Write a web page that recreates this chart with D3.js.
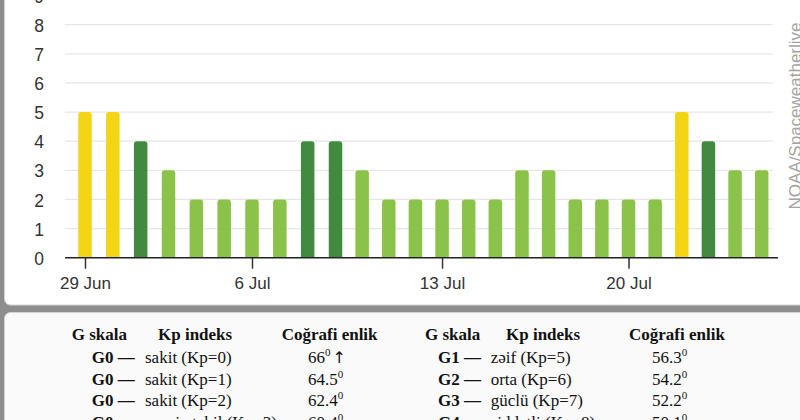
<!DOCTYPE html>
<html>
<head>
<meta charset="utf-8">
<script src="https://cdn.jsdelivr.net/npm/d3@7"></script>
<style>
  html, body { margin: 0; padding: 0; background: #8e8e8e; }
  svg { display: block; }
</style>
</head>
<body>
<div id="chart"></div>
<script>
// daily max Kp, 29 Jun onwards
const kpValues = [5, 5, 4, 3, 2, 2, 2, 2, 4, 4, 3, 2, 2, 2, 2, 2, 3, 3, 2, 2, 2, 2, 5, 4, 3, 3];
const yTicks = [0, 1, 2, 3, 4, 5, 6, 7, 8, 9];
const xTickIdx = [0, 6, 13, 20];
const xTickLabels = ['29 Jun', '6 Jul', '13 Jul', '20 Jul'];

const headers = ['G skala', 'Kp indeks', 'Coğrafi enlik'];
const leftLevels = ['G0 —', 'G0 —', 'G0 —', 'G0 —'];
const leftDescs = ['sakit (Kp=0)', 'sakit (Kp=1)', 'sakit (Kp=2)', 'qeyri-stabil (Kp=3)'];
const leftLats = ['66', '64.5', '62.4', '60.4'];
const rightLevels = ['G1 —', 'G2 —', 'G3 —', 'G4 —'];
const rightDescs = ['zəif (Kp=5)', 'orta (Kp=6)', 'güclü (Kp=7)', 'şiddətli (Kp=8)'];
const rightLats = ['56.3', '54.2', '52.2', '50.1'];

const width = 800;
const height = 420;
const plot = { left: 65, right: 773, axisEnd: 778, top: 0, bottom: 257.7 };

const svg = d3.select('#chart')
  .append('svg')
  .attr('width', width)
  .attr('height', height);

// panels
svg.append('rect')
  .attr('x', 4.5).attr('y', -20)
  .attr('width', 830).attr('height', 325)
  .attr('rx', 6)
  .attr('fill', '#fff')
  .attr('stroke', '#d4d4d4');

svg.append('rect')
  .attr('x', 4.5).attr('y', 312.5)
  .attr('width', 830).attr('height', 160)
  .attr('rx', 6)
  .attr('fill', '#fafafa')
  .attr('stroke', '#d4d4d4');

// the photo is a little skewed, so the x scale has two segments
const x = d3.scaleLinear()
  .domain([0, 9, kpValues.length - 1])
  .range([85, 335.5, 761.7]);

const y = d3.scaleLinear()
  .domain([0, 8])
  .range([plot.bottom, 24.7]);

const color = d3.scaleThreshold()
  .domain([4, 5])
  .range(['#8bc34a', '#428a3f', '#f3d516']);

// gridlines
svg.append('g')
  .selectAll('line')
  .data(yTicks.filter(d => d > 0))
  .join('line')
    .attr('x1', plot.left)
    .attr('x2', plot.right)
    .attr('y1', d => y(d))
    .attr('y2', d => y(d))
    .attr('stroke', '#e6e6e6')
    .attr('stroke-width', 1.2);

// bars with rounded tops
const barW = 13.5;
const r = 3;
svg.append('g')
  .selectAll('path')
  .data(kpValues)
  .join('path')
    .attr('fill', d => color(d))
    .attr('d', (d, i) => {
      const x0 = x(i) - barW / 2, x1 = x(i) + barW / 2;
      const y0 = y(d), yb = y(0);
      return `M${x0},${yb}V${y0 + r}Q${x0},${y0} ${x0 + r},${y0}H${x1 - r}Q${x1},${y0} ${x1},${y0 + r}V${yb}Z`;
    });

// y axis labels
const yAxis = svg.append('g')
  .attr('transform', `translate(${plot.left},0)`)
  .call(d3.axisLeft(y).tickValues(yTicks).tickSize(0).tickPadding(21));
yAxis.select('.domain').remove();
yAxis.selectAll('text')
  .attr('font-family', 'Liberation Sans, Arial, sans-serif')
  .attr('font-size', '17.5px')
  .attr('fill', '#333')
  .attr('dy', '0.38em');

// x axis
const xAxis = svg.append('g')
  .attr('transform', `translate(0,${plot.bottom})`)
  .call(d3.axisBottom(x)
    .tickValues(xTickIdx)
    .tickFormat((d, i) => xTickLabels[i])
    .tickSize(11)
    .tickPadding(8));
xAxis.select('.domain').remove();
xAxis.selectAll('line').attr('stroke', '#333').attr('stroke-width', 1.5);
xAxis.selectAll('text')
  .attr('font-family', 'Liberation Sans, Arial, sans-serif')
  .attr('font-size', '17px')
  .attr('fill', '#333');

svg.append('line')
  .attr('x1', plot.left).attr('x2', plot.axisEnd)
  .attr('y1', plot.bottom).attr('y2', plot.bottom)
  .attr('stroke', '#222')
  .attr('stroke-width', 1.6);

// source watermark
svg.append('text')
  .attr('transform', 'translate(801,116) rotate(-90)')
  .attr('text-anchor', 'middle')
  .attr('font-family', 'Liberation Sans, Arial, sans-serif')
  .attr('font-size', '17px')
  .attr('fill', '#a3a3a3')
  .text('NOAA/Spaceweatherlive');

// G scale table
const table = svg.append('g')
  .attr('font-family', 'Liberation Serif, Times New Roman, serif')
  .attr('font-size', '17px')
  .attr('fill', '#111');

const headY = 339.5;
const rowY = [363, 384.5, 406, 427.5];

function drawTable(cols, levels, descs, lats, arrowFirst) {
  table.append('g')
    .attr('font-weight', 'bold')
    .selectAll('text')
    .data(headers)
    .join('text')
      .attr('x', (d, i) => cols.head[i])
      .attr('y', headY)
      .text(d => d);

  table.append('g')
    .attr('font-weight', 'bold')
    .selectAll('text')
    .data(levels)
    .join('text')
      .attr('x', cols.level)
      .attr('y', (d, i) => rowY[i])
      .text(d => d);

  table.append('g')
    .selectAll('text')
    .data(descs)
    .join('text')
      .attr('x', cols.desc)
      .attr('y', (d, i) => rowY[i])
      .text(d => d);

  const lat = table.append('g')
    .selectAll('text')
    .data(lats)
    .join('text')
      .attr('x', cols.lat)
      .attr('y', (d, i) => rowY[i]);
  lat.append('tspan').text(d => d);
  lat.append('tspan')
    .attr('font-size', '11px')
    .attr('dy', -7)
    .text('0');
  if (arrowFirst) {
    lat.filter((d, i) => i === 0)
      .append('tspan')
      .attr('dy', 7)
      .attr('dx', 2)
      .attr('font-family', 'DejaVu Sans, sans-serif')
      .attr('font-size', '16px')
      .text('↑');
  }
}

drawTable({ head: [71.7, 158, 281.7], level: 91.7, desc: 145, lat: 308 },
  leftLevels, leftDescs, leftLats, true);
drawTable({ head: [425, 506, 629], level: 438, desc: 490.7, lat: 652 },
  rightLevels, rightDescs, rightLats, false);
</script>
</body>
</html>
